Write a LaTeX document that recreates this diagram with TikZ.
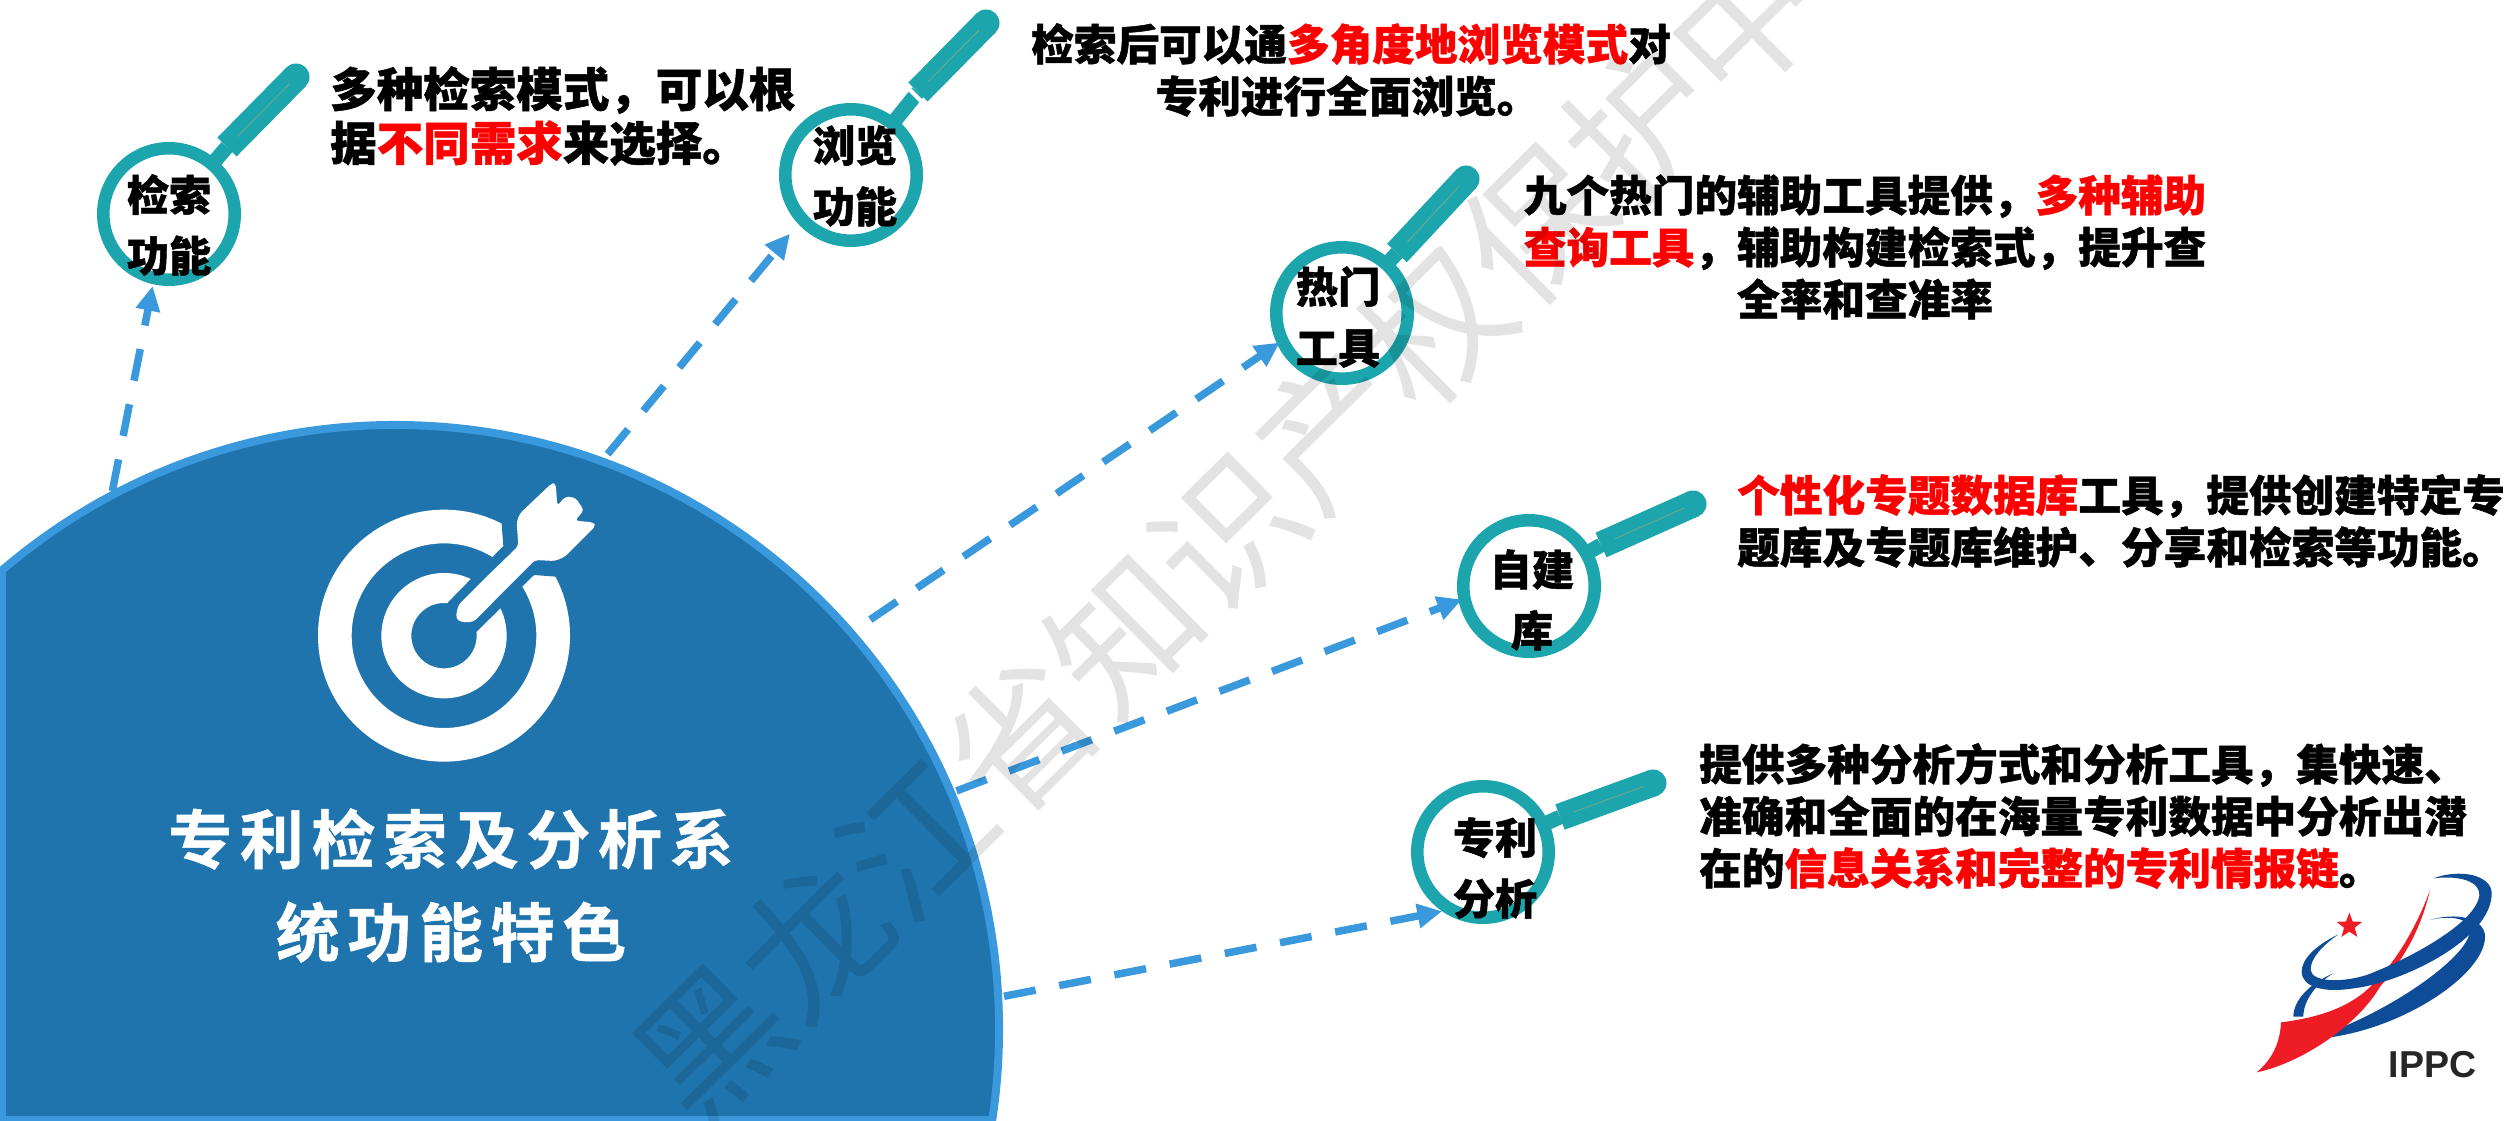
\documentclass[tikz,border=0pt]{standalone}
\usepackage{fontspec}
\setmainfont[BoldFeatures={FakeBold=1.1}]{Noto Sans CJK SC}
\newfontfamily\titlefont[LetterSpace=12,FakeBold=0.8]{Noto Sans CJK SC Bold}
\newfontfamily\wmfont{Noto Sans CJK SC}
\newfontfamily\logofont{Liberation Sans}
\usetikzlibrary{arrows.meta,calc,shapes.geometric}
\definecolor{hubfill}{HTML}{2074AE}
\definecolor{hubline}{HTML}{3A98DC}
\definecolor{teal1}{HTML}{1CA5AC}
\definecolor{glintc}{HTML}{6FA88C}
\definecolor{logoblue}{HTML}{0F4C97}
\definecolor{logored}{HTML}{EE1C25}
\tikzset{
  x=.3mm,y=-.3mm,
  hubnode/.style={circle,draw=hubline,fill=hubfill,line width=6.8pt,minimum size=1031.2pt,inner sep=0pt,outer sep=0pt},
  lens/.style={circle,draw=teal1,fill=white,line width=10.7pt,minimum size=112.2pt,inner sep=0pt,outer sep=0pt},
  lenstext/.style={font=\bfseries\fontsize{36}{52}\selectfont,align=center,inner sep=0pt,text=black},
  desc/.style={font=\bfseries\fontsize{36.4}{44.4}\selectfont,inner sep=0pt,text=black},
  desclarge/.style={font=\bfseries\fontsize{39.7}{46}\selectfont,inner sep=0pt,text=black},
  hubtitle/.style={font=\titlefont\fontsize{54.6}{79.4}\selectfont,align=center,inner sep=0pt,text=white},
  link/.style={draw=hubline,line width=6.4pt,dash pattern=on 27.5pt off 20.5pt,-{Triangle[length=21pt,width=20pt,fill=hubline]}},
  stem/.style={draw=teal1,line width=12.6pt},
  handlebar/.style={draw=teal1,line width=23pt},
  handleend/.style={fill=teal1},
  glint/.style={draw=glintc,line width=.8pt},
  watermark/.style={font=\wmfont\fontsize{124}{124}\selectfont,text=black,text opacity=.11,inner sep=0pt,rotate=44.7},
}
\newcommand{\hot}[1]{\textcolor{red}{#1}}
\newcommand{\lenshandle}[3]{%
  \draw[stem] (#1) -- (#2);
  \draw[handlebar] (#2) -- (#3);
  \fill[handleend] (#3) circle[radius=13.5];
  \draw[glint] ($(#2)!.15!(#3)$) -- ($(#2)!.9!(#3)$);
}
\begin{document}
\begin{tikzpicture}
\path[use as bounding box,clip] (0,0) rectangle (2509,1121);
\fill[white] (0,0) rectangle (2509,1121);

% hub
\node[hubnode] (hub) at (395,1029) {};
\begin{scope}
  \clip (395,1029) circle[radius=604];
  \draw[hubline,line width=6.8pt] (2,400) -- (2,1121);
  \draw[hubline,line width=5pt] (0,1118.5) -- (1100,1118.5);
\end{scope}

% target icon
\begin{scope}[shift={(250,450)},x=.1mm,y=-.1mm]
  \fill[white,even odd rule] (582,557) circle[radius=378] (582,557) circle[radius=277]
     (582,557) circle[radius=188] (582,557) circle[radius=98];
  \fill[hubfill] (582,557) -- (593,458) -- (760,288) -- (755,222) -- (800,120) -- (1000,300) -- (918,380) -- (852,375) -- (680,545) -- cycle;
  \fill[white,rounded corners=3pt] (625,465) -- (617,503) -- (630,516) -- (670,516) -- (855,330) -- (915,333) -- (945,320) -- (1037,228) -- (1030,217) -- (975,212) -- (1002,180) -- (975,142) -- (945,140) -- (922,168) -- (917,100) -- (905,100) -- (810,190) -- (800,215) -- (805,288) -- (710,380) -- cycle;
\end{scope}

% lenses
\node[lens] (c1) at (169,214) {};
\node[lens] (c2) at (851,175) {};
\node[lens] (c3) at (1342,313) {};
\node[lens] (c4) at (1529,586) {};
\node[lens] (c5) at (1483,852) {};
\coordinate (s1) at (227,147); \coordinate (e1) at (296,77);
\coordinate (s2) at (918,92);  \coordinate (e2) at (986,23);
\coordinate (s3) at (1397,253);\coordinate (e3) at (1466,179);
\coordinate (s4) at (1601,545);\coordinate (e4) at (1693,504);
\coordinate (s5) at (1560,817);\coordinate (e5) at (1653,783);
\lenshandle{c1}{s1}{e1}
\lenshandle{c2}{s2}{e2}
\lenshandle{c3}{s3}{e3}
\lenshandle{c4}{s4}{e4}
\lenshandle{c5}{s5}{e5}
\draw[white,line width=3.5pt] ($(s2)+(-17,-11)$) -- ($(s2)+(11,17)$);

% connectors
\draw[link,shorten <=4pt,shorten >=7pt] (hub.118.6) -- (c1.257);
\draw[link,shorten <=8pt,shorten >=16.4pt] (hub.70.6) -- (c2.222);
\draw[link,shorten <=20pt,shorten >=2.8pt] (hub.41) -- (c3.205.8);
\draw[link,shorten <=5pt,shorten >=2.3pt] (hub.23) -- (c4.191.8);
\draw[link,shorten <=5pt,shorten >=7.9pt] (hub.3.6) -- (c5.241.4);

% lens texts
\node[lenstext] (t1) at (169,225) {检索\\功能};
\node[lenstext] (t2) at (855,176) {浏览\\功能};
\node[lenstext] (t3) at (1338,317) {热门\\工具};
\node[lenstext] (t4) at (1532,600) {自建\\库};
\node[lenstext] (t5) at (1495,868) {专利\\分析};

% descriptions
\node[desclarge,anchor=west,align=left] (d1) at (330,116) {多种检索模式，可以根\\据\hot{不同需求}来选择。};
\node[desc,align=center] (d2) at (1351,70) {检索后可以通\hot{多角度地浏览模式}对\\\hspace*{-6pt}专利进行全面浏览。};
\node[desc,align=center] (d3) at (1865,247) {九个热门的辅助工具提供，\hot{多种辅助}\\\hot{查询工具}，辅助构建检索式，提升查\\全率和查准率};
\node[desc,anchor=west,align=left] (d4) at (1737,521) {\hot{个性化专题数据库}工具，提供创建特定专\\题库及专题库维护、分享和检索等功能。};
\node[desc,anchor=west,align=left] (d5) at (1699,816) {提供多种分析方式和分析工具，集快速、\\准确和全面的在海量专利数据中分析出潜\\在的\hot{信息关系和完整的专利情报链}。};

% hub title
\node[hubtitle] (title) at (451,885.5) {专利检索及分析系\\统功能特色};

% logo
\begin{scope}[shift={(2200,840)},x=.1mm,y=-.1mm]
  \fill[logoblue] (400,400) .. controls (330,430) and (280,480) .. (280,530) -- (310,530) .. controls (310,480) and (350,430) .. (400,400) -- cycle;
  \fill[logoblue] (690,240) .. controls (750,225) and (810,235) .. (810,270) .. controls (810,340) and (620,480) .. (430,560) -- (390,592) .. controls (620,560) and (855,400) .. (855,290) .. controls (855,235) and (770,215) .. (690,240) -- cycle;
  \fill[logored] (690,150) .. controls (660,280) and (600,370) .. (540,440) .. controls (470,560) and (300,670) .. (170,697) .. controls (215,660) and (240,610) .. (243,547) .. controls (380,530) and (470,490) .. (530,420) .. controls (590,360) and (650,260) .. (690,150) -- cycle;
  \fill[logoblue] (415,283) .. controls (340,320) and (305,360) .. (305,395) .. controls (305,440) and (370,460) .. (460,445) .. controls (600,430) and (875,300) .. (875,160) .. controls (875,105) and (780,85) .. (700,115) .. controls (780,105) and (840,125) .. (838,165) .. controls (830,250) and (620,360) .. (500,405) .. controls (420,430) and (335,425) .. (332,390) .. controls (330,355) and (370,315) .. (415,283) -- cycle;
  \node[star,star points=5,star point ratio=2.4,fill=logored,inner sep=0pt,minimum size=23pt] (logostar) at (448,258) {};
  \node[font=\logofont\bfseries\fontsize{32}{32}\selectfont,text=black!85,inner sep=0pt] (logotext) at (697,675) {IPPC};
\end{scope}

% watermark
\node[watermark] (wm) at (1279,481) {黑龙江省知识产权保护中心};
\end{tikzpicture}
\end{document}
